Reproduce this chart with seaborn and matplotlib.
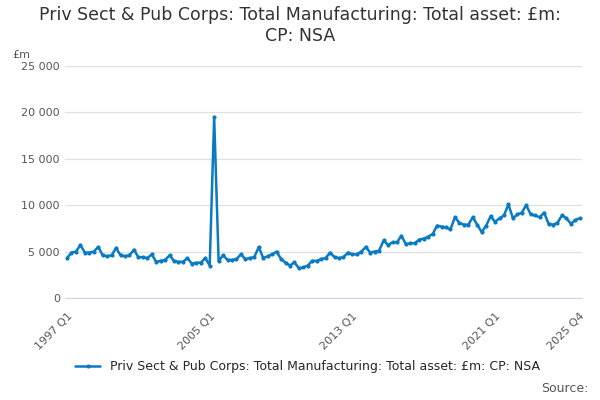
import numpy as np
import pandas as pd
import matplotlib
matplotlib.use("Agg")
import matplotlib.pyplot as plt
import seaborn as sns
from matplotlib.ticker import FuncFormatter

# quarterly values, 1997 Q1 .. 2025 Q4 (£m)
values = [
    4300, 4900, 5000, 5700, 4900, 4900, 5000, 5500, 4600, 4500, 4600, 5400,
    4600, 4500, 4600, 5200, 4400, 4400, 4300, 4700, 3900, 4000, 4100, 4600,
    4000, 3900, 3900, 4300, 3700, 3800, 3800, 4300, 3500, 19500, 4000, 4600,
    4100, 4100, 4200, 4700, 4200, 4300, 4400, 5500, 4300, 4500, 4700, 5000,
    4200, 3800, 3500, 3850, 3200, 3300, 3500, 4000, 4000, 4200, 4300, 4900,
    4400, 4300, 4400, 4900, 4700, 4700, 5000, 5500, 4900, 5000, 5100, 6200,
    5700, 6000, 6000, 6700, 5800, 5900, 5900, 6300, 6400, 6600, 6900, 7800,
    7700, 7600, 7400, 8700, 8100, 7900, 7900, 8700, 7900, 7100, 7800, 8800,
    8200, 8600, 8900, 10100, 8600, 9000, 9200, 10000, 9000, 8900, 8700, 9200,
    8000, 7900, 8100, 8900, 8600, 8000, 8400, 8600,
]
periods = [f"{y} Q{q}" for y in range(1997, 2026) for q in range(1, 5)]
label_ticks = ["1997 Q1", "2005 Q1", "2013 Q1", "2021 Q1", "2025 Q4"]
series_name = "Priv Sect & Pub Corps: Total Manufacturing: Total asset: £m: CP: NSA"

df = pd.DataFrame({"idx": np.arange(len(values)), "value": values})

sns.set_style("white")
plt.rcParams["font.family"] = ["DejaVu Sans"]
color = "#0a7bc2"

fig, ax = plt.subplots(figsize=(6, 4), dpi=100)
sns.lineplot(data=df, x="idx", y="value", ax=ax, color=color, lw=1.8,
             marker="o", markersize=3, markeredgewidth=0, label=series_name)

ax.set_ylim(0, 25000)
ax.set_yticks(range(0, 25001, 5000))
ax.yaxis.set_major_formatter(FuncFormatter(lambda v, p: f"{int(v):,}".replace(",", " ")))
ax.grid(axis="y", color="#e0e0e0", lw=0.9)
ax.set_xlim(-0.5, len(values) - 0.5)
ax.set_xticks([periods.index(p) for p in label_ticks])
ax.set_xticklabels(label_ticks, rotation=45, ha="right", rotation_mode="anchor")
ax.set_xticks(range(0, len(values), 4), minor=True)
ax.tick_params(axis="x", which="both", length=6, color="#ccd6eb", labelsize=8, labelcolor="#555555")
ax.tick_params(axis="y", length=0, labelsize=8, labelcolor="#555555")
for s in ["top", "right", "left"]:
    ax.spines[s].set_visible(False)
ax.spines["bottom"].set_color("#ccd6eb")
ax.set_xlabel("")
ax.set_ylabel("")

fig.suptitle("Priv Sect & Pub Corps: Total Manufacturing: Total asset: £m:\nCP: NSA",
             fontsize=12.5, color="#333333", y=0.985)
fig.text(0.02, 0.855, "£m", fontsize=8, color="#555555")
ax.legend(loc="upper center", bbox_to_anchor=(0.47, -0.22), frameon=False, fontsize=9)
fig.text(0.98, 0.02, "Source:", ha="right", fontsize=9, color="#555555")

fig.subplots_adjust(left=0.108, right=0.97, top=0.835, bottom=0.255)
fig.savefig("out.png", dpi=100)
